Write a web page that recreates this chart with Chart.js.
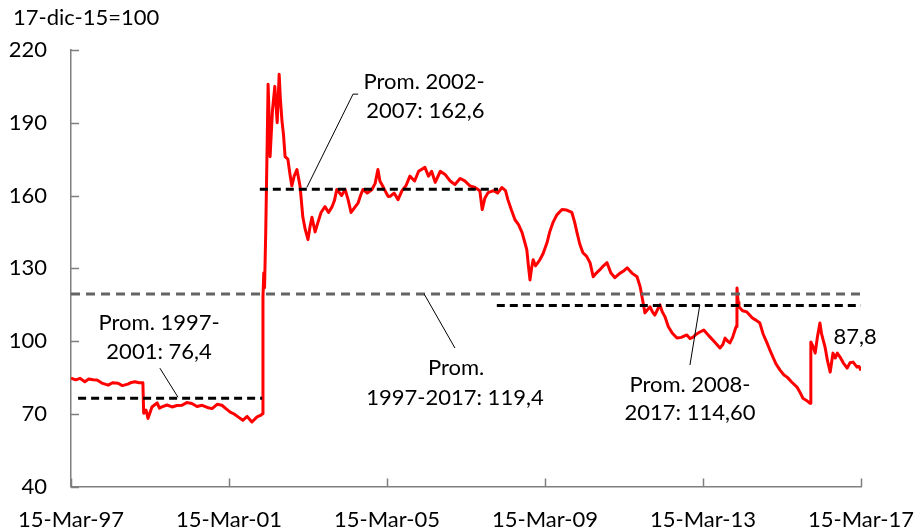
<!DOCTYPE html>
<html lang="es">
<head>
<meta charset="utf-8">
<title>Tipo de cambio real</title>
<script src="https://cdn.jsdelivr.net/npm/chart.js@4.4.1/dist/chart.umd.min.js"></script>
<style>
    html, body { margin: 0; padding: 0; background: #fff; }
    #grafico { display: block; }
</style>
</head>
<body>
<canvas id="grafico" width="917" height="531"></canvas>
<script>
// Años transcurridos desde el 15-mar-97 (eje x) y valor del índice (17-dic-15=100)
let tAnios = [
    0.00, 0.12, 0.23, 0.35, 0.45, 0.56, 0.66, 0.80, 0.94, 1.05, 1.19, 1.30, 1.44, 1.53, 1.62, 1.72, 1.82,
    1.84, 1.90, 1.95, 2.05, 2.18, 2.24, 2.30, 2.43, 2.56, 2.68, 2.81, 2.93, 3.06, 3.19, 3.32, 3.45, 3.57,
    3.70, 3.82, 3.93, 4.03, 4.13, 4.23, 4.35, 4.46, 4.58, 4.71, 4.81, 4.84, 4.86, 4.88, 4.90, 4.93, 4.95,
    4.97, 4.99, 5.02, 5.04, 5.10, 5.16, 5.22, 5.27, 5.30, 5.34, 5.38, 5.42, 5.49, 5.55, 5.59, 5.65, 5.72,
    5.80, 5.87, 5.93, 6.00, 6.05, 6.10, 6.18, 6.25, 6.33, 6.43, 6.52, 6.61, 6.67, 6.73, 6.85, 6.94, 7.02,
    7.09, 7.18, 7.27, 7.33, 7.39, 7.50, 7.62, 7.70, 7.77, 7.82, 7.87, 7.95, 8.03, 8.08, 8.18, 8.28, 8.38,
    8.48, 8.58, 8.70, 8.80, 8.96, 9.05, 9.13, 9.22, 9.35, 9.47, 9.60, 9.72, 9.85, 9.97, 10.10, 10.23, 10.35,
    10.41, 10.48, 10.56, 10.70, 10.80, 10.91, 11.00, 11.06, 11.15, 11.24, 11.33, 11.42, 11.50, 11.54, 11.58,
    11.62, 11.66, 11.70, 11.76, 11.82, 11.87, 11.95, 12.05, 12.12, 12.20, 12.30, 12.43, 12.55, 12.68, 12.75,
    12.81, 12.88, 12.96, 13.05, 13.14, 13.22, 13.30, 13.39, 13.48, 13.57, 13.67, 13.77, 13.90, 14.00, 14.08,
    14.20, 14.33, 14.41, 14.47, 14.53, 14.60, 14.66, 14.72, 14.78, 14.85, 14.91, 14.97, 15.04, 15.12, 15.22,
    15.34, 15.45, 15.59, 15.67, 15.75, 15.83, 15.92, 16.02, 16.13, 16.18, 16.30, 16.43, 16.50, 16.56, 16.62,
    16.68, 16.75, 16.81, 16.84, 16.86, 16.89, 16.91, 17.00, 17.11, 17.25, 17.35, 17.44, 17.52, 17.62, 17.70,
    17.77, 17.85, 17.95, 18.05, 18.13, 18.25, 18.38, 18.45, 18.53, 18.62, 18.71, 18.73, 18.78, 18.84, 18.90,
    18.96, 19.00, 19.09, 19.15, 19.22, 19.29, 19.35, 19.40, 19.47, 19.55, 19.65, 19.72, 19.80, 19.90, 19.95,
    20.00
];
let indice = [
    84.7, 84.0, 84.6, 83.2, 84.3, 84.0, 83.9, 82.5, 81.8, 82.8, 82.6, 81.6, 82.2, 82.9, 83.2, 82.8, 82.8,
    70.2, 71.5, 68.1, 72.8, 74.5, 72.3, 72.8, 73.6, 72.8, 73.4, 73.5, 74.6, 74.2, 73.0, 73.5, 72.6, 72.1,
    73.9, 73.5, 72.0, 70.7, 69.9, 68.7, 67.3, 68.9, 66.6, 68.7, 69.4, 70.0, 118, 128, 122, 145, 165,
    185, 205.9, 190, 176, 195, 205, 190, 210, 200, 191, 185, 176, 175, 168, 164, 168, 170.7,
    163.7, 151, 146, 141.8, 147, 151, 145, 148.8, 153, 155.4, 153, 155.4, 158, 162.5, 160, 162.5, 158,
    153, 155, 157, 160, 162.5, 161, 162.5, 165, 170.7, 166, 164.5, 162, 159.6, 159.7, 161, 158.3, 162,
    164, 168, 166, 170, 171.6, 168, 170, 165.4, 170, 168.7, 166, 164.5, 167, 166, 164, 163.3, 162,
    154.2, 159, 161.2, 162, 161, 163.3, 162, 158.3, 154, 150, 148, 144.7, 140, 137.6, 131,
    125.2, 130, 133.5, 131, 132.3, 133.5, 136, 140.5, 145, 148.8, 152, 154.2, 154, 153, 149,
    144.7, 140, 136.4, 135, 132.3, 126.5, 128, 129.4, 131, 132.3, 128, 126.1, 128, 129, 130.2,
    128, 126.5, 122.3, 117, 111.6, 113, 114.1, 112, 110.7, 113, 114.9, 112, 109.9, 106, 103.3,
    101.2, 101.5, 102.5, 101, 101.6, 102.8, 103.7, 104.5, 102.5, 101.6, 99.5, 97.1, 98.5, 101.2, 100,
    99.2, 101.5, 104.5, 106, 121.9, 116, 114.1, 112.5, 112, 109.5, 108.5, 107.4, 103, 99.2, 96,
    93.4, 90.5, 88, 86, 85.1, 83, 81, 79, 76.4, 75.5, 74.3, 99.6, 98, 95, 102,
    107.4, 103, 97.5, 92, 87.2, 95, 93, 95, 93.4, 91, 88.8, 91, 91.3, 89.2, 89.5,
    87.8
];

// Promedios por período: [desde, hasta] en años y valor
let prom1997_2001 = { desde: 0.18, hasta: 4.84, valor: 76.4 };
let prom2002_2007 = { desde: 4.78, hasta: 10.81, valor: 162.6 };
let prom1997_2017 = { desde: 0.00, hasta: 20.00, valor: 119.4 };
let prom2008_2017 = { desde: 10.78, hasta: 20.00, valor: 114.6 };

let etiquetasX = ["15-Mar-97", "15-Mar-01", "15-Mar-05", "15-Mar-09", "15-Mar-13", "15-Mar-17"];
let ticksY = [40, 70, 100, 130, 160, 190, 220];

const fuente = "Lato, 'Open Sans', sans-serif";

// textos de las anotaciones (posición en unidades del gráfico)
let anotaciones = [
    { x: 2.23, y: 107.5, texto: "Prom. 1997-" },
    { x: 2.23, y: 95.5, texto: "2001: 76,4" },
    { x: 8.94, y: 206.7, texto: "Prom. 2002-" },
    { x: 8.97, y: 194.9, texto: "2007: 162,6" },
    { x: 9.75, y: 88.9, texto: "Prom." },
    { x: 9.72, y: 76.5, texto: "1997-2017: 119,4" },
    { x: 15.67, y: 81.8, texto: "Prom. 2008-" },
    { x: 15.67, y: 70.2, texto: "2017: 114,60" },
    { x: 19.85, y: 101.7, texto: "87,8" }
];

// líneas finas que unen cada texto con su promedio
let guias = [
    [[2.25, 88.8], [2.71, 76.8]],
    [[5.97, 163.3], [7.14, 201.8], [7.27, 201.8]],
    [[8.94, 119.4], [9.72, 97.1]],
    [[15.92, 114.9], [15.67, 90.1]]
];

function lineaPromedio(p, color, dash) {
    return {
        data: [{ x: p.desde, y: p.valor }, { x: p.hasta, y: p.valor }],
        borderColor: color,
        borderWidth: 3,
        borderDash: dash,
        pointRadius: 0
    };
}

let datasets = [];

// primero las guías, luego los promedios y la serie arriba
guias.forEach((g) => {
    datasets.push({
        data: g.map((p) => ({ x: p[0], y: p[1] })),
        borderColor: "#000",
        borderWidth: 1,
        pointRadius: 0
    });
});

datasets.push(lineaPromedio(prom1997_2017, "#646464", [9, 6]));
datasets.push(lineaPromedio(prom1997_2001, "#000", [8, 5]));
datasets.push(lineaPromedio(prom2002_2007, "#000", [8, 5]));
datasets.push(lineaPromedio(prom2008_2017, "#000", [8, 5]));

datasets.push({
    data: tAnios.map((t, i) => ({ x: t, y: indice[i] })),
    borderColor: "#ff0000",
    borderWidth: 3,
    pointRadius: 0,
    borderJoinStyle: "round"
});

const textosPlugin = {
    id: "textos",
    afterDatasetsDraw(chart) {
        const ctx = chart.ctx;
        const sx = chart.scales.x;
        const sy = chart.scales.y;
        const area = chart.chartArea;

        ctx.save();
        // marcas de los ejes hacia adentro
        ctx.strokeStyle = "#7f7f7f";
        ctx.lineWidth = 1.5;
        ctx.beginPath();
        ticksY.forEach((v) => {
            let y = Math.round(sy.getPixelForValue(v)) + 0.5;
            ctx.moveTo(area.left, y);
            ctx.lineTo(area.left + 8, y);
        });
        for (let i = 0; i < etiquetasX.length; i++) {
            let x = Math.round(sx.getPixelForValue(i * 4)) + 0.5;
            ctx.moveTo(x, area.bottom);
            ctx.lineTo(x, area.bottom - 8);
        }
        ctx.stroke();

        ctx.fillStyle = "#000";
        ctx.font = "22px " + fuente;
        ctx.textAlign = "center";
        ctx.textBaseline = "middle";
        anotaciones.forEach((a) => {
            ctx.fillText(a.texto, sx.getPixelForValue(a.x), sy.getPixelForValue(a.y));
        });

        ctx.textAlign = "left";
        ctx.fillText("17-dic-15=100", 13, 18);
        ctx.restore();
    }
};

new Chart(document.getElementById("grafico").getContext("2d"), {
    type: "line",
    data: { datasets: datasets },
    options: {
        responsive: false,
        animation: false,
        devicePixelRatio: 1,
        layout: { padding: { left: 0, top: 50, right: 56, bottom: 0 } },
        plugins: {
            legend: { display: false },
            tooltip: { enabled: false }
        },
        scales: {
            x: {
                type: "linear",
                min: 0,
                max: 20,
                afterFit: (scale) => {
                    scale.height = 44.5;
                    scale.paddingLeft = 0;
                    scale.paddingRight = 0;
                },
                ticks: {
                    stepSize: 4,
                    padding: 20,
                    color: "#000",
                    font: { family: fuente, size: 22 },
                    maxRotation: 0,
                    callback: (value, index) => etiquetasX[index]
                },
                grid: { drawOnChartArea: false, drawTicks: false },
                border: { color: "#7f7f7f", width: 1.5 }
            },
            y: {
                min: 40,
                max: 220,
                afterFit: (scale) => {
                    scale.width = 71;
                    scale.paddingTop = 0;
                    scale.paddingBottom = 0;
                },
                ticks: {
                    stepSize: 30,
                    padding: 24,
                    color: "#000",
                    font: { family: fuente, size: 22 }
                },
                grid: { drawOnChartArea: false, drawTicks: false },
                border: { color: "#7f7f7f", width: 1.5 }
            }
        }
    },
    plugins: [textosPlugin]
});
</script>
</body>
</html>
